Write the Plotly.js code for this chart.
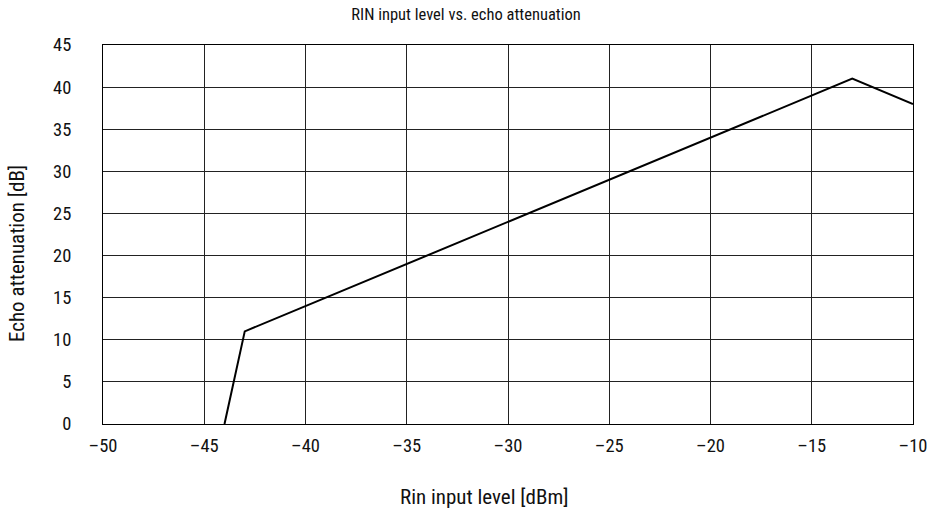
<!DOCTYPE html>
<html><head><meta charset="utf-8">
<script src="https://cdn.plot.ly/plotly-3.0.1.min.js"></script>
<style>html,body{margin:0;padding:0;background:#fff}#chart{width:932px;height:517px}
svg text{font-stretch:condensed !important;}</style>
</head><body><div id="chart"></div>
<script>
const rinLevel = [-44, -43, -13, -10];
const echoAtten = [0, 11, 41, 38];
const xTickVals = [-50, -45, -40, -35, -30, -25, -20, -15, -10];
const xTickText = ['–50', '–45', '–40', '–35', '–30', '–25', '–20', '–15', '–10'];
const yTickVals = [0, 5, 10, 15, 20, 25, 30, 35, 40, 45];
const xAxisTitle = 'Rin input level [dBm]';
const yAxisTitle = 'Echo attenuation [dB]';

const FONT = '"Roboto Condensed", "Liberation Sans Narrow", Roboto, sans-serif';

Plotly.newPlot('chart', [{
  x: rinLevel, y: echoAtten, type: 'scatter', mode: 'lines',
  line: {color: '#000', width: 2}, hoverinfo: 'skip'
}], {
  width: 932, height: 517,
  margin: {l: 103, r: 19, t: 45, b: 93},
  paper_bgcolor: '#fff', plot_bgcolor: '#fff',
  font: {family: FONT, size: 18.5, color: '#111'},
  title: {text: 'RIN input level vs. echo attenuation', font: {family: FONT, size: 16.5, color: '#111'}, x: 0.5, xanchor: 'center', y: 0.973, yanchor: 'middle'},
  showlegend: false,
  xaxis: {
    range: [-50, -10], tickvals: xTickVals, ticktext: xTickText,
    showgrid: true, gridcolor: '#222', gridwidth: 1,
    showline: true, linecolor: '#000', linewidth: 1, mirror: true,
    zeroline: false, ticks: '', ticklabelstandoff: 5
  },
  yaxis: {
    range: [0, 45], tickvals: yTickVals,
    showgrid: true, gridcolor: '#222', gridwidth: 1,
    showline: true, linecolor: '#000', linewidth: 1, mirror: true,
    zeroline: false, ticks: '', ticklabelstandoff: 27
  },
  annotations: [
    {text: xAxisTitle, xref: 'paper', yref: 'paper', x: (484 - 103) / 810, y: -(497 - 424) / 379,
     xanchor: 'center', yanchor: 'middle', showarrow: false, font: {family: FONT, size: 21, color: '#111'}},
    {text: yAxisTitle, xref: 'paper', yref: 'paper', x: (17 - 103) / 810, y: (424 - 254) / 379,
     xanchor: 'center', yanchor: 'middle', textangle: -90, showarrow: false, font: {family: FONT, size: 21, color: '#111'}}
  ]
}, {staticPlot: true, displayModeBar: false});
</script></body></html>
